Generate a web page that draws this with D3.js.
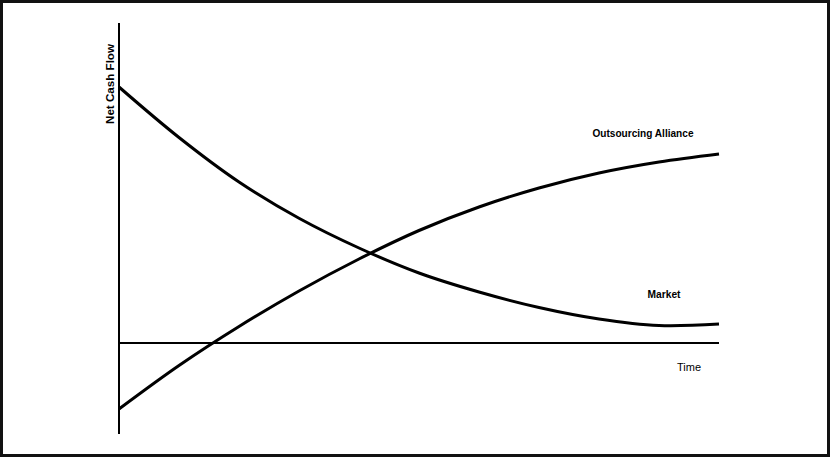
<!DOCTYPE html>
<html>
<head>
<meta charset="utf-8">
<script src="https://cdn.jsdelivr.net/npm/d3@7"></script>
<style>
  body { margin: 0; background: #fff; }
  svg text { font-family: "Liberation Sans", Arial, sans-serif; fill: #000; }
</style>
</head>
<body>
<div class="chart"></div>
<script>
// time steps and net cash flow of both curves (arbitrary units)
const times = [0, 2, 4, 6, 8, 10, 12, 14, 16, 18, 20]
const market = [102.4, 82.2, 64.4, 49.9, 38, 28, 20.4, 14.2, 9.6, 7, 7.6]
const alliance = [-26.4, -9, 6.6, 20.8, 33.6, 45, 54.4, 62, 68, 72.4, 75.6]
const seriesNames = ["Market", "Outsourcing Alliance"]

const width = 831, height = 458

const svg = d3.select(".chart")
  .append("svg")
    .attr("width", width)
    .attr("height", height)

// frame round the picture
svg.append("rect")
  .attr("x", 1.5).attr("y", 1.5)
  .attr("width", width - 4).attr("height", height - 4)
  .attr("fill", "none")
  .attr("stroke", "#111")
  .attr("stroke-width", 3)

const x = d3.scaleLinear().domain([0, 20]).range([119, 719])
const y = d3.scaleLinear().domain([-36.4, 128]).range([434, 23])

// axes: vertical at t=0, horizontal at zero cash flow
svg.append("line")
  .attr("x1", x(0)).attr("x2", x(0))
  .attr("y1", y.range()[0]).attr("y2", y.range()[1])
  .attr("stroke", "#000").attr("stroke-width", 2)

svg.append("line")
  .attr("x1", x(0)).attr("x2", x(20))
  .attr("y1", y(0)).attr("y2", y(0))
  .attr("stroke", "#000").attr("stroke-width", 2)

const line = d3.line()
  .x((d) => x(d[0]))
  .y((d) => y(d[1]))
  .curve(d3.curveCatmullRom)

;[market, alliance].forEach((vals) => {
  svg.append("path")
    .datum(times.map((t, i) => [t, vals[i]]))
    .attr("d", line)
    .attr("fill", "none")
    .attr("stroke", "#000")
    .attr("stroke-width", 3)
})

// labels are a bit condensed in the original, so squeeze them
svg.append("text")
  .attr("transform", "translate(114,84) rotate(-90)")
  .attr("text-anchor", "middle")
  .attr("font-size", 11)
  .attr("font-weight", "bold")
  .attr("textLength", 80)
  .attr("lengthAdjust", "spacingAndGlyphs")
  .text("Net Cash Flow")

svg.append("text")
  .attr("x", 643).attr("y", 137)
  .attr("text-anchor", "middle")
  .attr("font-size", 11)
  .attr("font-weight", "bold")
  .attr("textLength", 101)
  .attr("lengthAdjust", "spacingAndGlyphs")
  .text(seriesNames[1])

svg.append("text")
  .attr("x", 664).attr("y", 298)
  .attr("text-anchor", "middle")
  .attr("font-size", 11)
  .attr("font-weight", "bold")
  .attr("textLength", 33)
  .attr("lengthAdjust", "spacingAndGlyphs")
  .text(seriesNames[0])

svg.append("text")
  .attr("x", 689).attr("y", 371)
  .attr("text-anchor", "middle")
  .attr("font-size", 11)
  .text("Time")
</script>
</body>
</html>
